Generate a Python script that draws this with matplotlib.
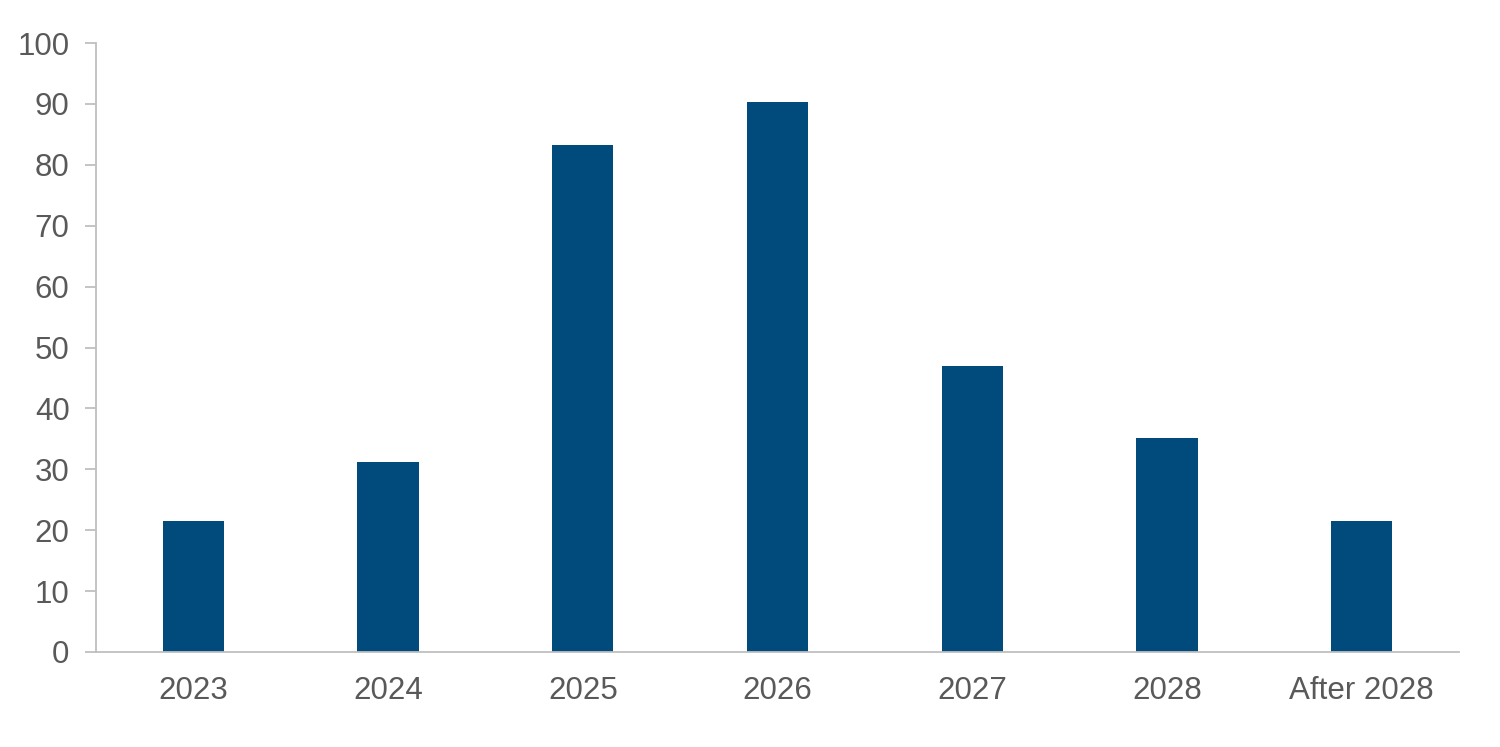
import matplotlib.pyplot as plt
import numpy as np

plt.rcParams['font.family'] = ['Liberation Sans', 'DejaVu Sans']

# 数据
categories = ['2023', '2024', '2025', '2026', '2027', '2028', 'After 2028']
values = [21.5, 31.2, 83.3, 90.3, 47.0, 35.1, 21.5]
yticks = [0, 10, 20, 30, 40, 50, 60, 70, 80, 90, 100]

bar_color = '#004B7C'
text_color = '#595959'
axis_color = '#BFBFBF'

fig = plt.figure(figsize=(15, 7.47), dpi=100)
ax = fig.add_axes([0.064, 0.1272, 0.9087, 0.8152])

x = np.arange(len(categories))
ax.bar(x, values, width=0.315, color=bar_color, zorder=2)

ax.set_xlim(-0.5, len(categories) - 0.5)
ax.set_ylim(0, 100)
ax.set_yticks(yticks)
ax.set_xticks(x)
ax.set_xticklabels(categories)

# 坐标轴样式
for side in ['top', 'right']:
    ax.spines[side].set_visible(False)
for side in ['left', 'bottom']:
    ax.spines[side].set_color(axis_color)
    ax.spines[side].set_linewidth(1.3)

ax.tick_params(axis='y', length=8, width=1.3, color=axis_color,
               labelsize=22.5, labelcolor=text_color, pad=11)
ax.tick_params(axis='x', length=0, labelsize=22.5, labelcolor=text_color, pad=17)

fig.savefig('out.png', dpi=100)
